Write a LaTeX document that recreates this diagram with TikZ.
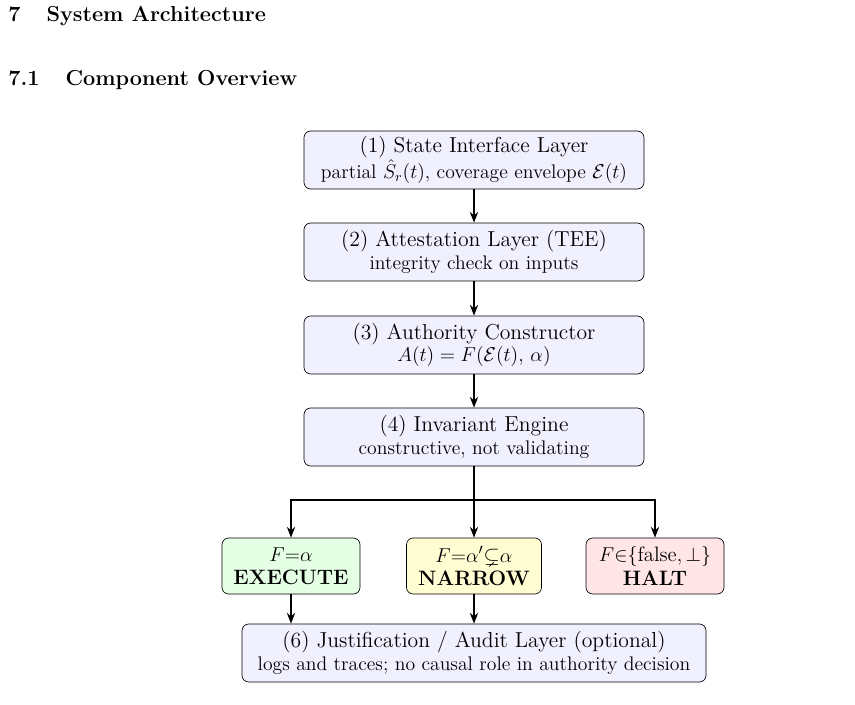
\documentclass[tikz,border=0pt]{standalone}
\usepackage{amsmath,amssymb}
\usetikzlibrary{arrows.meta}
\begin{document}
\begin{tikzpicture}[x=0.6pt,y=-0.6pt,
  box/.style={draw,rounded corners=4pt,fill=blue!6,align=center,inner sep=0pt,font=\fontsize{11.8}{13.5}\selectfont},
  res/.style={draw,rounded corners=4pt,align=center,inner sep=0pt,font=\fontsize{12.5}{14}\selectfont},
  big/.style={font=\fontsize{13}{15}\selectfont},
  arr/.style={-{Stealth[length=6.5pt,width=5pt]},thick},
  hd/.style={anchor=west,font=\bfseries\fontsize{13}{15}\selectfont,inner sep=0pt}]
\useasboundingbox (0,0) rectangle (855,705);
\node[hd] (h1) at (8,16) {7\hspace{1.2em}System Architecture};
\node[hd] (h2) at (8,80) {7.1\hspace{1.2em}Component Overview};
\node[box,minimum width=340*0.6pt,minimum height=58*0.6pt] (b1) at (474,160)
 {{\fontsize{13}{15}\selectfont (1) State Interface Layer}\\ partial $\hat S_r(t)$, coverage envelope $\mathcal{E}(t)$};
\node[box,minimum width=340*0.6pt,minimum height=58*0.6pt] (b2) at (474,252)
 {{\fontsize{13}{15}\selectfont (2) Attestation Layer (TEE)}\\ integrity check on inputs};
\node[box,minimum width=340*0.6pt,minimum height=58*0.6pt] (b3) at (474,345)
 {{\fontsize{13}{15}\selectfont (3) Authority Constructor}\\ $A(t)=F(\mathcal{E}(t),\,\alpha)$};
\node[box,minimum width=340*0.6pt,minimum height=58*0.6pt] (b4) at (474,437)
 {{\fontsize{13}{15}\selectfont (4) Invariant Engine}\\ constructive, not validating};
\node[res,fill=green!10,minimum width=138*0.6pt,minimum height=56*0.6pt] (e) at (291,566)
 {$F{=}\alpha$\\ \textbf{EXECUTE}};
\node[res,fill=yellow!18,minimum width=135*0.6pt,minimum height=56*0.6pt] (n) at (474,566)
 {$F{=}\alpha'{\subsetneq}\alpha$\\ \textbf{NARROW}};
\node[res,fill=red!10,minimum width=138*0.6pt,minimum height=56*0.6pt] (h) at (655,566)
 {$F{\in}\{\text{false},\bot\}$\\ \textbf{HALT}};
\node[box,minimum width=464*0.6pt,minimum height=58*0.6pt] (b6) at (474,653)
 {{\fontsize{13}{15}\selectfont (6) Justification / Audit Layer (optional)}\\ logs and traces; no causal role in authority decision};
\draw[arr] (b1) -- (b2);
\draw[arr] (b2) -- (b3);
\draw[arr] (b3) -- (b4);
\coordinate (j) at (474,500);
\draw[thick] (b4.south) -- (j);
\draw[arr] (j) -- (n.north);
\draw[arr] (j) -| (e.north);
\draw[arr] (j) -| (h.north);
\draw[arr] (e.south) -- (e.south |- b6.north);
\draw[arr] (n.south) -- (b6.north);
\end{tikzpicture}
\end{document}
